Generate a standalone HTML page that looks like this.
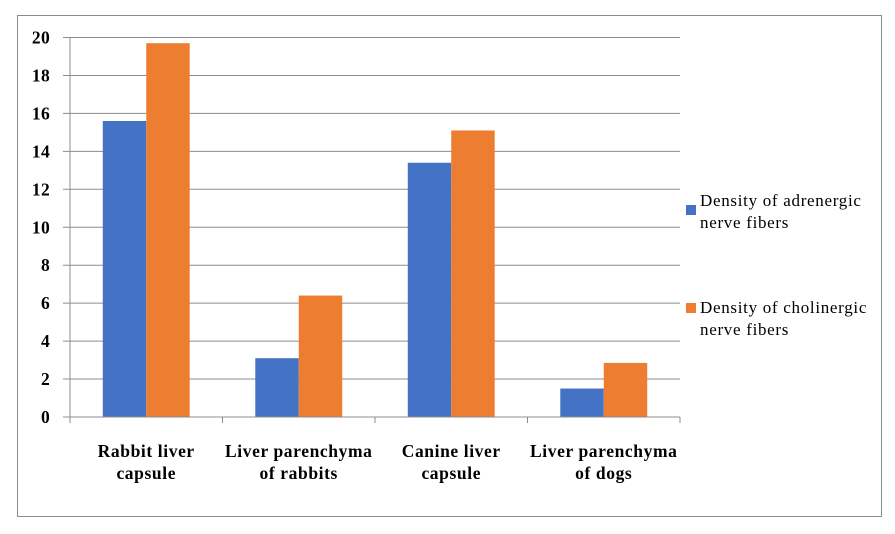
<!DOCTYPE html>
<html><head><meta charset="utf-8"><style>
body{margin:0;background:#fff;}
svg text{font-family:"Liberation Serif",serif;}
</style></head><body>
<svg width="895" height="529" xmlns="http://www.w3.org/2000/svg">
<rect x="17.5" y="15.5" width="864" height="501" fill="#fff" stroke="#8c8c8c"/>
<g id="grid"></g><g id="bars"></g><g id="axes"></g>
<g font-size="17" letter-spacing="0.7">
<rect x="686" y="205" width="10" height="10" fill="#4472c4"/>
<text x="700" y="206">Density of adrenergic</text>
<text x="700" y="228">nerve fibers</text>
<rect x="686" y="303" width="10" height="10" fill="#ed7d31"/>
<text x="700" y="313">Density of cholinergic</text>
<text x="700" y="335">nerve fibers</text>
</g>
</svg>
<script>
const categories=[["Rabbit liver","capsule"],["Liver parenchyma","of rabbits"],["Canine liver","capsule"],["Liver parenchyma","of dogs"]];
const adrenergic=[15.6,3.1,13.4,1.5];
const cholinergic=[19.7,6.4,15.1,2.85];
const yTicks=[0,2,4,6,8,10,12,14,16,18,20];
const NS="http://www.w3.org/2000/svg";
const L=70,R=680,T=37.5,B=417,yMax=20;
const y=v=>B-(v/yMax)*(B-T);
const cw=(R-L)/categories.length;
const x=i=>L+i*cw;
function mk(tag,attrs,parent){const e=document.createElementNS(NS,tag);for(const k in attrs)e.setAttribute(k,attrs[k]);document.getElementById(parent).appendChild(e);return e;}
yTicks.forEach(t=>{
 const l=mk('line',{x1:63,x2:R,y1:y(t),y2:y(t),stroke:'#8c8c8c','stroke-width':1},'grid');
 
 
 const tx=mk('text',{x:50,y:y(t)+6,'text-anchor':'end','font-size':17.5,'font-weight':'bold','letter-spacing':0.3},'axes');
 tx.textContent=t;
 
 
});
const bw=cw*0.285;
categories.forEach((c,i)=>{
 const cx=x(i)+cw/2;
 const b1=mk('rect',{x:cx-bw,y:y(adrenergic[i]),width:bw,height:B-y(adrenergic[i]),fill:'#4472c4'},'bars');
 
 
 const b2=mk('rect',{x:cx,y:y(cholinergic[i]),width:bw,height:B-y(cholinergic[i]),fill:'#ed7d31'},'bars');
 
 
 c.forEach((s,j)=>{
  const t=mk('text',{x:cx,y:457+j*22,'text-anchor':'middle','font-size':17.5,'font-weight':'bold','letter-spacing':0.6},'axes');
  t.textContent=s;
  
  
 });
});
for(let i=0;i<=categories.length;i++){
 const tk=mk('line',{x1:x(i),x2:x(i),y1:B,y2:B+6,stroke:'#8c8c8c'},'axes');
 
 
}
const ya=mk('line',{x1:L,x2:L,y1:T,y2:B,stroke:'#8c8c8c'},'axes');


const xa=mk('line',{x1:63,x2:R,y1:B,y2:B,stroke:'#8c8c8c'},'axes');


</script>
</body></html>
